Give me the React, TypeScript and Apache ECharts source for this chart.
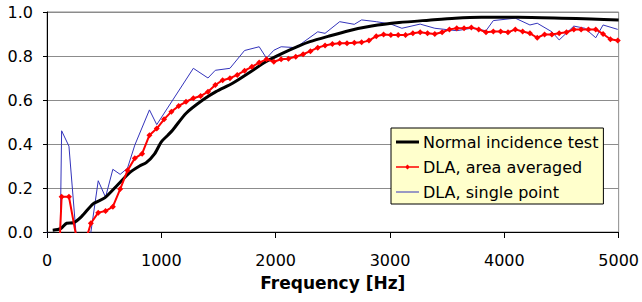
import React, { useEffect, useRef } from "react";
import * as echarts from "echarts";

// Frequency [Hz] / absorption coefficient pairs
const normalIncidence: [number, number][] = [
  [50, 0.008], [120, 0.015], [172, 0.04], [229, 0.042], [302, 0.07], [403, 0.128],
  [505, 0.155], [621, 0.216], [723, 0.27], [810, 0.3], [868, 0.315], [941, 0.355],
  [1000, 0.41], [1057, 0.44], [1100, 0.464], [1217, 0.54], [1362, 0.6], [1478, 0.638],
  [1623, 0.676], [1768, 0.724], [1914, 0.774], [2058, 0.812], [2200, 0.845],
  [2300, 0.865], [2450, 0.888], [2640, 0.915], [2840, 0.936], [3080, 0.952],
  [3340, 0.963], [3570, 0.972], [3800, 0.976], [4120, 0.976], [4500, 0.972],
  [4760, 0.968], [5000, 0.964],
];

const dlaAreaAveraged: [number, number][] = [
  [64, -0.6], [128, 0.16], [192, 0.16], [256, -0.02], [320, -0.07], [384, 0.04],
  [448, 0.088], [512, 0.095], [576, 0.115], [640, 0.195], [704, 0.279], [768, 0.335],
  [832, 0.356], [896, 0.44], [960, 0.47], [1024, 0.512], [1088, 0.547], [1152, 0.573],
  [1216, 0.592], [1280, 0.608], [1344, 0.618], [1408, 0.638], [1472, 0.668],
  [1536, 0.69], [1600, 0.699], [1664, 0.714], [1728, 0.733], [1792, 0.751],
  [1856, 0.77], [1920, 0.785], [1984, 0.774], [2048, 0.785], [2112, 0.788],
  [2176, 0.797], [2240, 0.808], [2304, 0.822], [2368, 0.838], [2432, 0.848],
  [2496, 0.855], [2560, 0.858], [2624, 0.858], [2688, 0.86], [2752, 0.862],
  [2816, 0.87], [2880, 0.89], [2944, 0.898], [3008, 0.895], [3072, 0.895],
  [3136, 0.895], [3200, 0.903], [3264, 0.908], [3328, 0.903], [3392, 0.9],
  [3456, 0.908], [3520, 0.921], [3584, 0.926], [3648, 0.926], [3712, 0.93],
  [3776, 0.921], [3840, 0.908], [3904, 0.911], [3968, 0.911], [4032, 0.908],
  [4096, 0.921], [4160, 0.911], [4224, 0.903], [4288, 0.883], [4352, 0.898],
  [4416, 0.898], [4480, 0.903], [4544, 0.908], [4608, 0.921], [4672, 0.921],
  [4736, 0.921], [4800, 0.921], [4864, 0.9], [4928, 0.876], [4992, 0.87],
];

const dlaSinglePoint: [number, number][] = [
  [0, 0], [64, -2], [128, 0.46], [192, 0.39], [256, -0.02], [320, -0.4], [384, 0.0],
  [448, 0.233], [512, 0.158], [576, 0.285], [640, 0.262], [704, 0.29], [768, 0.395],
  [896, 0.555], [960, 0.488], [1280, 0.744], [1408, 0.7], [1472, 0.735], [1600, 0.744],
  [1728, 0.825], [1856, 0.842], [1920, 0.79], [1984, 0.826], [2048, 0.842],
  [2176, 0.838], [2368, 0.91], [2432, 0.903], [2560, 0.956], [2688, 0.944],
  [2752, 0.964], [2880, 0.956], [3008, 0.945], [3104, 0.926], [3264, 0.945],
  [3392, 0.926], [3584, 0.915], [3712, 0.926], [3840, 0.915], [3904, 0.961],
  [4096, 0.972], [4224, 0.941], [4288, 0.949], [4416, 0.91], [4480, 0.873],
  [4608, 0.936], [4704, 0.926], [4800, 0.883], [4864, 0.941], [4992, 0.921],
];

const seriesNames = ["Normal incidence test", "DLA, area averaged", "DLA, single point"];
const xTitle = "Frequency [Hz]";

const FONT = "DejaVu Sans";

// legend icons (23 x 16 box; the corner move-tos fix the bounding box)
const BOX = "M0,0L0,0M23,16L23,16";
const ICON_BLACK = `path://${BOX}M0,6.5L23,6.5L23,9.5L0,9.5Z`;
const ICON_RED = `path://${BOX}M0,7.2L23,7.2L23,8.8L0,8.8ZM11.5,5.5L14,8L11.5,10.5L9,8Z`;
const ICON_BLUE = `path://${BOX}M0,7.5L23,7.5L23,8.5L0,8.5Z`;

export default function App() {
  const ref = useRef<HTMLDivElement>(null);
  useEffect(() => {
    document.body.style.margin = "0";
    if (!ref.current) return;
    const chart = echarts.init(ref.current, undefined, { renderer: "svg" });
    chart.setOption({
      animation: false,
      backgroundColor: "#ffffff",
      grid: {
        left: 47, right: 21, top: 12, bottom: 70,
        show: true, borderColor: "#8c8c8c", borderWidth: 1,
      },
      legend: {
        orient: "vertical",
        left: 391, top: 128,
        data: [
          { name: seriesNames[0], icon: ICON_BLACK },
          { name: seriesNames[1], icon: ICON_RED },
          { name: seriesNames[2], icon: ICON_BLUE },
        ],
        backgroundColor: "#ffffcc",
        borderColor: "#000000",
        borderWidth: 1,
        padding: [6, 5, 4, 5],
        itemGap: 9,
        itemWidth: 23,
        itemHeight: 16,
        symbolKeepAspect: false,
        textStyle: { fontFamily: FONT, fontSize: 16, color: "#000", padding: [0, 0, 0, -1] },
      },
      xAxis: {
        type: "value",
        min: 0, max: 5000, interval: 1000,
        name: xTitle,
        nameLocation: "middle",
        nameGap: 42,
        nameTextStyle: { fontFamily: FONT, fontSize: 17, fontWeight: "bold", color: "#000" },
        axisLine: { show: true, onZero: false, lineStyle: { color: "#000", width: 1 } },
        axisTick: { show: true, length: 6, lineStyle: { color: "#000" } },
        axisLabel: {
          fontFamily: FONT, fontSize: 16, color: "#000", margin: 20,
          formatter: (v: number) => String(v),
        },
        splitLine: { show: false },
      },
      yAxis: {
        type: "value",
        min: 0, max: 1, interval: 0.2,
        axisLine: { show: true, lineStyle: { color: "#000", width: 1 } },
        axisTick: { show: true, length: 4, lineStyle: { color: "#000" } },
        axisLabel: {
          fontFamily: FONT, fontSize: 16, color: "#000", margin: 14,
          formatter: (v: number) => v.toFixed(1),
        },
        splitLine: { show: true, lineStyle: { color: "#8c8c8c", width: 1 } },
      },
      series: [
        {
          name: seriesNames[0], type: "line", data: normalIncidence,
          showSymbol: false, symbol: "none", z: 3, smooth: 0.25,
          lineStyle: { color: "#000000", width: 3 },
          itemStyle: { color: "#000000" },
        },
        {
          name: seriesNames[1], type: "line", data: dlaAreaAveraged,
          symbol: "diamond", symbolSize: 6, z: 4,
          lineStyle: { color: "#ff0000", width: 2 },
          itemStyle: { color: "#ff0000" },
        },
        {
          name: seriesNames[2], type: "line", data: dlaSinglePoint,
          showSymbol: false, symbol: "none", z: 2,
          lineStyle: { color: "#3333bb", width: 1 },
          itemStyle: { color: "#3333bb" },
        },
      ],
    });
    return () => chart.dispose();
  }, []);
  return <div ref={ref} style={{ width: 642, height: 302 }} />;
}
